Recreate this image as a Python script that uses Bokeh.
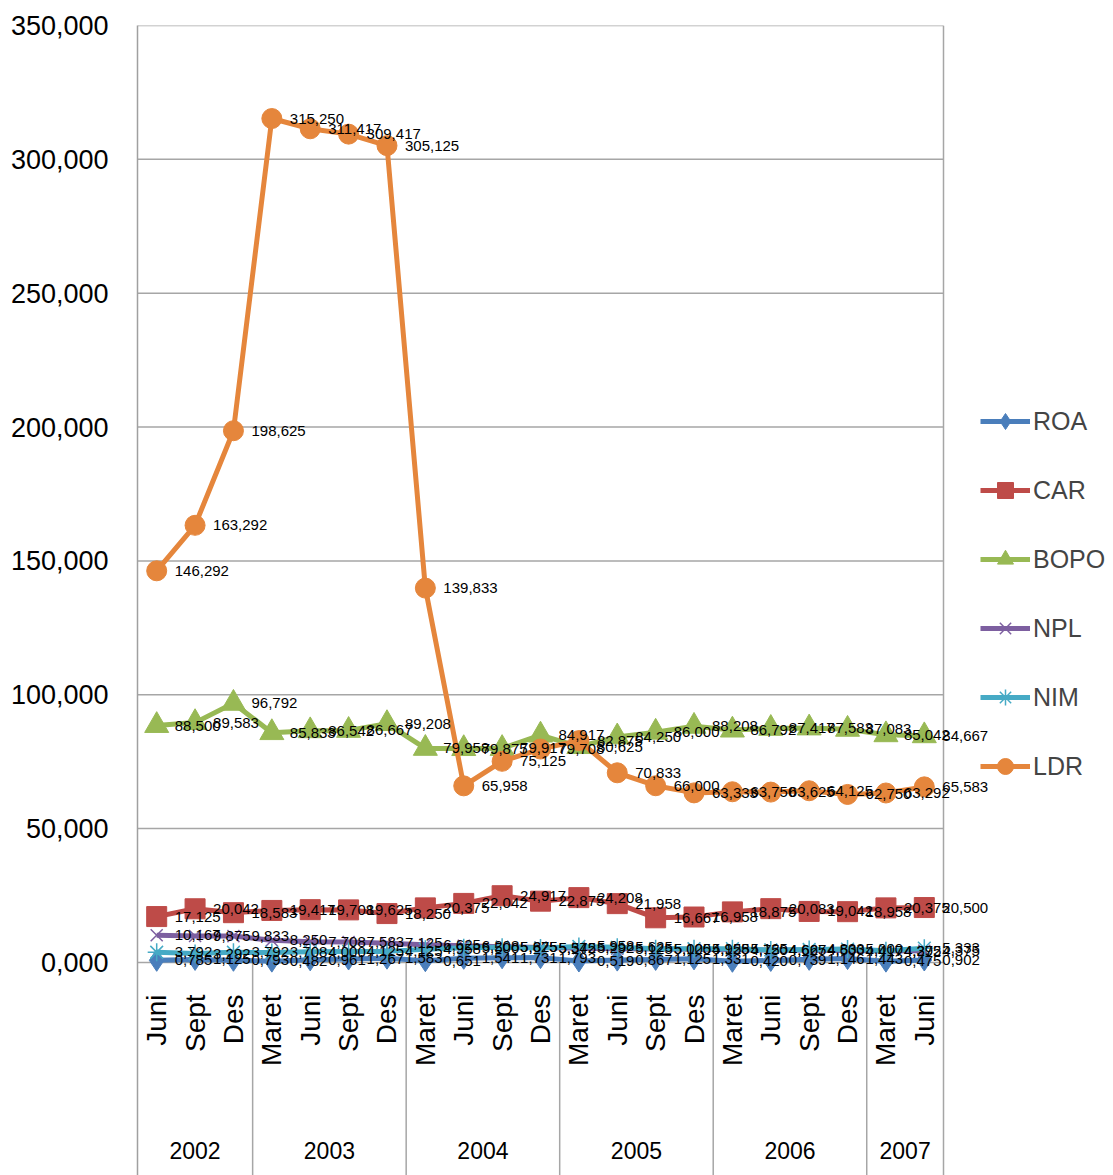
import math
from bokeh.plotting import figure
from bokeh.models import Range1d, FixedTicker, Legend, LegendItem
from bokeh.core.properties import value
from bokeh.embed import file_html
from bokeh.resources import INLINE

# ---- data ----
years = ["2002"] * 3 + ["2003"] * 4 + ["2004"] * 4 + ["2005"] * 4 + ["2006"] * 4 + ["2007"] * 2
months = ["Juni", "Sept", "Des",
          "Maret", "Juni", "Sept", "Des",
          "Maret", "Juni", "Sept", "Des",
          "Maret", "Juni", "Sept", "Des",
          "Maret", "Juni", "Sept", "Des",
          "Maret", "Juni"]

roa = [0.785, 1.125, 0.793, 0.482, 0.961, 1.267, 1.583, 0.651, 1.541, 1.731, 1.793,
       0.519, 0.867, 1.125, 1.331, 0.420, 0.739, 1.146, 1.443, 0.475, 0.902]
car = [17.125, 20.042, 18.583, 19.417, 19.708, 19.625, 18.250, 20.375, 22.042, 24.917, 22.875,
       24.208, 21.958, 16.667, 16.958, 18.875, 20.083, 19.042, 18.958, 20.375, 20.500]
bopo = [88.500, 89.583, 96.792, 85.833, 86.542, 86.667, 89.208, 79.958, 79.875, 79.917, 84.917,
        80.625, 84.250, 86.000, 88.208, 86.792, 87.417, 87.583, 87.083, 85.042, 84.667]
npl = [10.167, 9.875, 9.833, 8.250, 7.708, 7.583, 7.125, 6.625, 6.208, 5.875, 5.542,
       5.292, 5.125, 5.000, 4.958, 4.750, 4.625, 4.500, 4.417, 4.292, 4.375]
nim = [3.792, 3.292, 3.792, 3.708, 4.000, 4.125, 4.125, 4.958, 5.500, 5.625, 5.375,
       5.958, 5.625, 5.125, 5.125, 5.125, 4.667, 4.833, 5.000, 4.375, 5.333]
ldr = [146.292, 163.292, 198.625, 315.250, 311.417, 309.417, 305.125, 139.833, 65.958, 75.125, 79.708,
       82.875, 70.833, 66.000, 63.333, 63.750, 63.625, 64.125, 62.750, 63.292, 65.583]

y_ticks = [0, 50, 100, 150, 200, 250, 300, 350]

# ---- styling ----
FONT = "Liberation Sans"
GRID = "#A6A6A6"
series = [
    ("ROA", roa, "#4A7EBB", "diamond", 22, 5),
    ("CAR", car, "#BE4B48", "square", 20, 5),
    ("BOPO", bopo, "#98B954", "triangle", 24, 5),
    ("NPL", npl, "#7D5FA0", "x", 17, 5),
    ("NIM", nim, "#46AAC5", "asterisk", 18, 5),
    ("LDR", ldr, "#E5863C", "circle", 20, 5),
]

n = len(months)
xs = list(range(n))              # category positions
W, H = 1113, 1175
LEFT, TOP = 137, 25
PLOT_W = 806                     # width of the category area in px
unit = PLOT_W / n
x_end = -0.5 + (W - LEFT) / unit

p = figure(width=W, height=H, output_backend="svg", toolbar_location=None,
           x_range=Range1d(-0.5, x_end), y_range=Range1d(-79.6, 350),
           min_border_left=LEFT, min_border_right=0, min_border_top=TOP, min_border_bottom=0)
p.outline_line_color = None
p.background_fill_color = "white"
p.border_fill_color = "white"

p.xaxis.visible = False
p.xgrid.visible = False
p.ygrid.visible = False

yax = p.yaxis[0]
yax.ticker = FixedTicker(ticks=y_ticks)
yax.major_label_overrides = {t: f"{t},000" for t in y_ticks}
yax.axis_line_color = "#A0A0A0"
yax.axis_line_width = 1.5
yax.major_tick_line_color = None
yax.minor_tick_line_color = None
yax.major_tick_out = 0
yax.major_tick_in = 0
yax.major_label_standoff = 29
yax.major_label_text_font = FONT
yax.major_label_text_font_size = "27px"
yax.major_label_text_color = "#000000"

x_lo, x_hi = xs[0] - 0.5, xs[-1] + 0.5
# horizontal gridlines across the category area
p.segment(x0=[x_lo] * len(y_ticks), y0=y_ticks, x1=[x_hi] * len(y_ticks), y1=y_ticks,
          line_color=GRID, line_width=1.5)

# year separators & right border
last_idx = [i for i in range(n) if i == n - 1 or years[i] != years[i + 1]]
sep_x = [xs[i] + 0.5 for i in last_idx[:-1]]
p.segment(x0=sep_x, y0=[0] * len(sep_x), x1=sep_x, y1=[p.y_range.start] * len(sep_x),
          line_color=GRID, line_width=1.5)
p.segment(x0=[x_hi], y0=[p.y_range.end], x1=[x_hi], y1=[p.y_range.start],
          line_color=GRID, line_width=1.5)

items = []
for name, vals, color, marker, size, lw in series:
    lr = p.line(xs, vals, line_color=color, line_width=lw)
    if marker in ("x", "asterisk"):
        sr = p.scatter(xs, vals, marker=marker, size=size, line_color=color, line_width=1.5)
    else:
        sr = p.scatter(xs, vals, marker=marker, size=size, fill_color=color, line_color=color)
    items.append(LegendItem(label=name, renderers=[lr, sr]))

for name, vals, color, marker, size, lw in series:
    labels = [f"{v:.3f}".replace(".", ",") for v in vals]
    p.text(x=xs, y=vals, text=labels, x_offset=18, text_align="left", text_baseline="middle",
           text_font=value(FONT), text_font_size="15px", text_color="#000000")

# category labels (rotated)
p.text(x=xs, y=[0] * n, text=months, angle=math.pi / 2, y_offset=32,
       text_align="right", text_baseline="middle", text_font=value(FONT),
       text_font_size="28px", text_color="#000000")

# year labels
year_names, year_x = [], []
start = 0
for i in last_idx:
    year_names.append(years[i])
    year_x.append((xs[start] + xs[i]) / 2)
    start = i + 1
p.text(x=year_x, y=[0] * len(year_x), text=year_names, y_offset=188, text_align="center",
       text_baseline="middle", text_font=value(FONT), text_font_size="23px", text_color="#000000")

legend = Legend(items=items, location=(843, 389), glyph_width=50, glyph_height=40,
                label_height=40, spacing=29, padding=0, margin=0, label_standoff=3,
                label_text_font=FONT, label_text_font_size="25px",
                border_line_color=None, background_fill_alpha=0)
p.add_layout(legend)

open("out.html", "w").write(file_html(p, INLINE))
